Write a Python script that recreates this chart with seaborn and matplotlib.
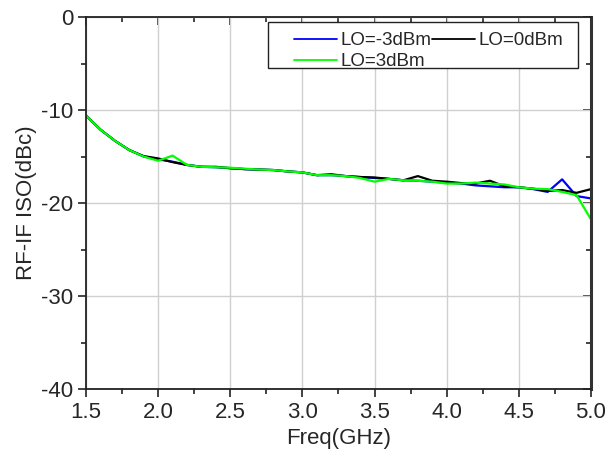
import numpy as np
import pandas as pd
import seaborn as sns
import matplotlib
matplotlib.use("Agg")
import matplotlib.pyplot as plt
from matplotlib.ticker import MultipleLocator
from matplotlib.patches import Rectangle

freq = [1.5, 1.6, 1.7, 1.8, 1.9, 2.0, 2.1, 2.2, 2.3, 2.4, 2.5, 2.6, 2.7, 2.8, 2.9, 3.0,
        3.1, 3.2, 3.3, 3.4, 3.5, 3.6, 3.7, 3.8, 3.9, 4.0, 4.1, 4.2, 4.3, 4.4, 4.5, 4.6,
        4.7, 4.8, 4.9, 5.0]
lo_m3 = [-10.6, -12.1, -13.3, -14.3, -15.0, -15.3, -15.55, -15.9, -16.1, -16.15, -16.25,
         -16.35, -16.4, -16.45, -16.6, -16.7, -17.0, -17.0, -17.1, -17.2, -17.3, -17.4,
         -17.55, -17.6, -17.7, -17.8, -17.9, -18.1, -18.2, -18.3, -18.3, -18.5, -18.8,
         -17.45, -19.25, -19.5]
lo_0 = [-10.6, -12.1, -13.3, -14.3, -14.95, -15.2, -15.6, -15.9, -16.1, -16.1, -16.25,
        -16.35, -16.4, -16.45, -16.6, -16.7, -17.0, -16.9, -17.1, -17.2, -17.25, -17.4,
        -17.55, -17.1, -17.6, -17.7, -17.85, -17.9, -17.6, -18.2, -18.3, -18.45, -18.7,
        -18.6, -18.9, -18.5]
lo_3 = [-10.6, -12.1, -13.3, -14.3, -15.0, -15.45, -14.9, -15.9, -16.1, -16.15, -16.2,
        -16.3, -16.4, -16.45, -16.6, -16.7, -17.0, -17.0, -17.1, -17.3, -17.7, -17.4,
        -17.55, -17.6, -17.7, -17.9, -17.9, -17.8, -17.9, -18.0, -18.3, -18.45, -18.5,
        -18.8, -19.15, -21.75]
labels = ["LO=-3dBm", "LO=0dBm", "LO=3dBm"]
colors = ["#0000FF", "#000000", "#00FF00"]

df = pd.concat([
    pd.DataFrame({"Freq": freq, "Iso": v, "LO": lab})
    for v, lab in zip([lo_m3, lo_0, lo_3], labels)
], ignore_index=True)

sns.set_style("white")
plt.rcParams['font.family'] = ['Liberation Sans', 'DejaVu Sans']
plt.rcParams['axes.unicode_minus'] = False

fig = plt.figure(figsize=(6.07, 4.61), dpi=100)
ax = fig.add_axes([0.1417, 0.156, 0.8319, 0.807])

sns.lineplot(data=df, x="Freq", y="Iso", hue="LO", hue_order=labels,
             palette=dict(zip(labels, colors)), linewidth=1.6, ax=ax, sort=False)

ax.set_xlim(1.5, 5.0)
ax.set_ylim(-40, 0)
ax.xaxis.set_major_locator(MultipleLocator(0.5))
ax.xaxis.set_minor_locator(MultipleLocator(0.25))
ax.yaxis.set_major_locator(MultipleLocator(10))
ax.yaxis.set_minor_locator(MultipleLocator(5))
ax.xaxis.set_major_formatter(matplotlib.ticker.FormatStrFormatter('%.1f'))
ax.grid(True, which='major', color='#d0d0d0', linewidth=1.0)
ax.set_axisbelow(True)

for s in ax.spines.values():
    s.set_color('#222222')
    s.set_linewidth(1.3)
ax.spines['right'].set_linewidth(2.2)
ax.spines['right'].set_color('#333333')

ax.tick_params(which='both', direction='out', bottom=True, left=True, top=False, right=False,
               color='#222222', width=1.2)
ax.tick_params(which='major', length=6, labelsize=16, pad=3)
ax.tick_params(which='minor', length=3.5)

# inward ticks on top and right
for sec in (ax.secondary_xaxis('top'), ax.secondary_yaxis('right')):
    sec.tick_params(which='both', direction='in', color='#222222', width=1.2,
                    labeltop=False, labelright=False, labelbottom=False, labelleft=False)
    sec.tick_params(which='major', length=6)
    sec.tick_params(which='minor', length=3.5)
    for s in sec.spines.values():
        s.set_visible(False)
sx, sy = ax.child_axes[-2], ax.child_axes[-1]
sx.xaxis.set_major_locator(MultipleLocator(0.5))
sx.xaxis.set_minor_locator(MultipleLocator(0.25))
sy.yaxis.set_major_locator(MultipleLocator(10))
sy.yaxis.set_minor_locator(MultipleLocator(5))

ax.set_xlabel("Freq(GHz)", fontsize=16, labelpad=4)
ax.set_ylabel("RF-IF ISO(dBc)", fontsize=16, labelpad=3)

# legend frame
ax.add_patch(Rectangle((0.3604, 0.863), 0.6136, 0.1236, transform=ax.transAxes,
                       facecolor='white', edgecolor='#222222', linewidth=1.0,
                       zorder=4, clip_on=False))

handles, labs = ax.get_legend_handles_labels()
order = [0, 2, 1]
leg = ax.legend([handles[i] for i in order], [labs[i] for i in order],
                ncol=2, loc='upper left', bbox_to_anchor=(0.412, 0.960), fontsize=13.5,
                frameon=False, handlelength=2.3, columnspacing=0.0, handletextpad=0.2,
                labelspacing=0.22, borderpad=0.0, borderaxespad=0.0)
leg.set_zorder(5)
for line in leg.get_lines():
    line.set_linewidth(1.3)

fig.savefig("out.png", dpi=100)
